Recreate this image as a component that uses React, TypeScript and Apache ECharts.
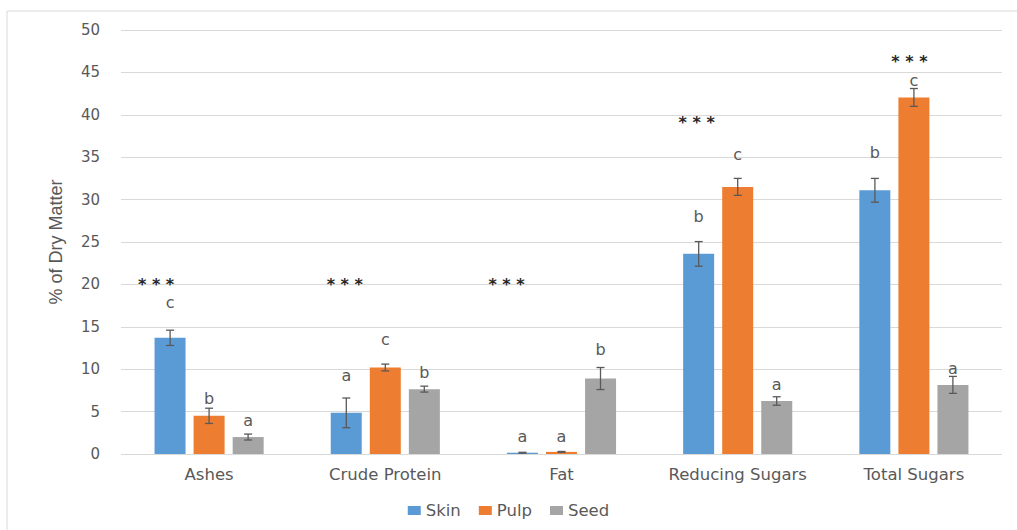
import React, { useEffect, useRef } from "react";
import * as echarts from "echarts";

const categories = ["Ashes", "Crude Protein", "Fat", "Reducing Sugars", "Total Sugars"];
const seriesNames = ["Skin", "Pulp", "Seed"];
const skinValues = [13.7, 4.85, 0.15, 23.6, 31.1];
const pulpValues = [4.5, 10.2, 0.25, 31.5, 42.05];
const seedValues = [2.0, 7.65, 8.9, 6.25, 8.15];
const skinErrors = [0.9, 1.75, 0.05, 1.45, 1.4];
const pulpErrors = [0.9, 0.4, 0.05, 1.0, 1.05];
const seedErrors = [0.35, 0.35, 1.3, 0.5, 1.0];
const skinLetters = ["c", "a", "a", "b", "b"];
const pulpLetters = ["b", "c", "a", "c", "c"];
const seedLetters = ["a", "b", "b", "a", "a"];
const skinLetterY = [17.84, 9.3, 2.12, 27.98, 35.5];
const pulpLetterY = [6.49, 13.56, 2.12, 35.26, 43.99];
const seedLetterY = [4.0, 9.59, 12.38, 8.25, 10.14];
const starLabels = ["***", "***", "***", "***", "***"];
const starY = [20.3, 20.3, 20.3, 39.5, 46.6];
const yTicks = { min: 0, max: 50, interval: 5 };

const colors = ["#5B9BD5", "#ED7D31", "#A5A5A5"];
const barOffsets = [-39, 0, 39];
const starOffsets = [-53, -40.5, -55, -41, -4.5];

export default function App() {
  const ref = useRef<HTMLDivElement>(null);
  useEffect(() => {
    if (!ref.current) return;
    const chart = echarts.init(ref.current, undefined, { renderer: "svg" });
    const values = [skinValues, pulpValues, seedValues];
    const errors = [skinErrors, pulpErrors, seedErrors];
    const letters = [skinLetters, pulpLetters, seedLetters];
    const letterY = [skinLetterY, pulpLetterY, seedLetterY];

    const errData: number[][] = [];
    const letterData: any[] = [];
    for (let s = 0; s < 3; s++) {
      for (let c = 0; c < categories.length; c++) {
        errData.push([c, values[s][c], errors[s][c], s]);
        letterData.push([c, letterY[s][c], s, letters[s][c]]);
      }
    }
    const starData = starY.map((y, i) => [i, y, i, starLabels[i]]);

    const font = "DejaVu Sans";
    const option: any = {
      animation: false,
      backgroundColor: "#ffffff",
      grid: { left: 121, right: 15, top: 30, bottom: 76, containLabel: false },
      legend: {
        data: seriesNames,
        bottom: 6,
        left: "center",
        itemWidth: 13,
        itemHeight: 9,
        itemGap: 18,
        icon: "rect",
        textStyle: { color: "#595959", fontSize: 16.5, fontFamily: font },
      },
      xAxis: {
        type: "category",
        data: categories,
        axisTick: { show: false },
        axisLine: { show: false },
        axisLabel: { color: "#595959", fontSize: 16.5, fontFamily: font, margin: 12, interval: 0 },
      },
      yAxis: {
        type: "value",
        min: yTicks.min,
        max: yTicks.max,
        interval: yTicks.interval,
        name: "% of Dry Matter",
        nameLocation: "middle",
        nameGap: 56,
        nameTextStyle: {
          color: "#595959",
          fontSize: 18,
          fontFamily: "Liberation Sans Narrow, Liberation Sans, sans-serif",
        },
        axisLine: { show: false },
        axisTick: { show: false },
        axisLabel: { color: "#595959", fontSize: 15, fontFamily: font, margin: 21 },
        splitLine: { lineStyle: { color: "#d9d9d9", width: 1 } },
      },
      graphic: [
        { type: "line", shape: { x1: 7, y1: 11, x2: 1017, y2: 11 }, style: { stroke: "#d9d9d9", lineWidth: 1 } },
        { type: "line", shape: { x1: 7, y1: 11, x2: 7, y2: 530 }, style: { stroke: "#d9d9d9", lineWidth: 1 } },
      ],
      series: [
        ...seriesNames.map((name, s) => ({
          name,
          type: "bar",
          data: values[s],
          barWidth: 31,
          barGap: "26%",
          itemStyle: { color: colors[s] },
        })),
        {
          type: "custom",
          name: "err",
          data: errData,
          z: 10,
          renderItem: (params: any, api: any) => {
            const c = api.value(0);
            const v = api.value(1);
            const e = api.value(2);
            const s = api.value(3);
            const top = api.coord([c, v + e]);
            const bot = api.coord([c, v - e]);
            const x = top[0] + barOffsets[s];
            const stroke = { stroke: "#595959", lineWidth: 1.3 };
            return {
              type: "group",
              children: [
                { type: "line", shape: { x1: x, y1: top[1], x2: x, y2: bot[1] }, style: stroke },
                { type: "line", shape: { x1: x - 4, y1: top[1], x2: x + 4, y2: top[1] }, style: stroke },
                { type: "line", shape: { x1: x - 4, y1: bot[1], x2: x + 4, y2: bot[1] }, style: stroke },
              ],
            };
          },
        },
        {
          type: "custom",
          name: "letters",
          data: letterData,
          z: 11,
          renderItem: (params: any, api: any) => {
            const item = letterData[params.dataIndex];
            const p = api.coord([item[0], item[1]]);
            return {
              type: "text",
              x: p[0] + barOffsets[item[2]],
              y: p[1],
              style: {
                text: item[3],
                fill: "#595959",
                fontSize: 16,
                fontFamily: font,
                align: "center",
                verticalAlign: "middle",
              },
            };
          },
        },
        {
          type: "custom",
          name: "stars",
          data: starData,
          z: 11,
          renderItem: (params: any, api: any) => {
            const item = starData[params.dataIndex];
            const p = api.coord([item[0], item[1]]);
            return {
              type: "text",
              x: p[0] + starOffsets[item[2] as number],
              y: p[1] + 3,
              style: {
                text: (item[3] as string).split("").join(" "),
                fill: "#262626",
                fontSize: 16,
                lineHeight: 12,
                fontWeight: "bold",
                fontFamily: font,
                align: "center",
                verticalAlign: "middle",
              },
            };
          },
        },
      ],
    };
    chart.setOption(option);
    return () => chart.dispose();
  }, []);
  return <div ref={ref} style={{ position: "fixed", left: 0, top: 0, width: 1017, height: 530 }} />;
}
